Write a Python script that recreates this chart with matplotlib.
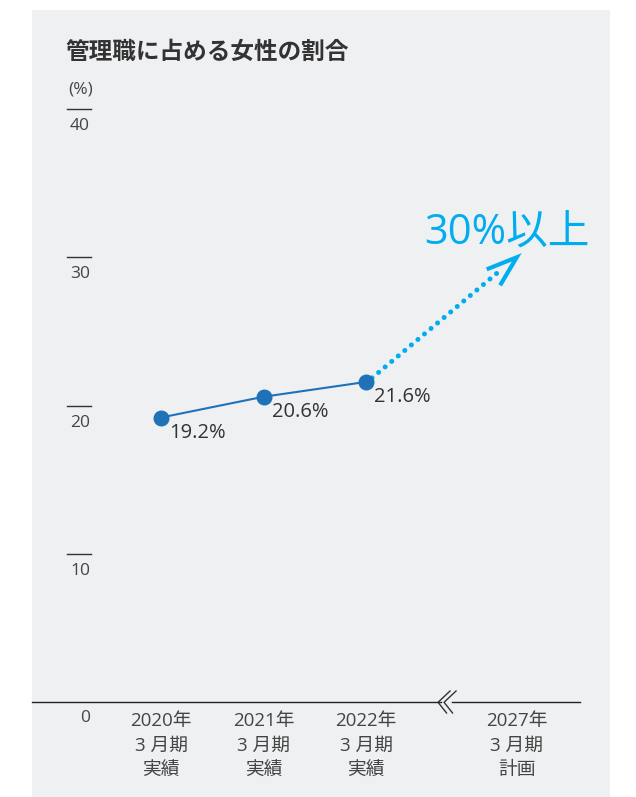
import matplotlib.pyplot as plt
from matplotlib.patches import Rectangle

plt.rcParams['font.family'] = ['Open Sans', 'Noto Sans CJK JP', 'DejaVu Sans']

# data
periods = ['2020年\n3 月期\n実績', '2021年\n3 月期\n実績', '2022年\n3 月期\n実績', '2027年\n3 月期\n計画']
xpos = [0, 1, 2, 3.47]
ratio = [19.2, 20.6, 21.6]
labels = ['19.2%', '20.6%', '21.6%']
target = 30
yticks = [10, 20, 30, 40]

W, H = 636, 797
fig = plt.figure(figsize=(W / 100, H / 100), dpi=100)
fig.patches.append(Rectangle((32 / W, 0), 578 / W, 1 - 10 / H, transform=fig.transFigure,
                             facecolor='#eff0f2', edgecolor='none', zorder=-5))

# axes: x px 32..610, y 0 at px 702.3, 40 at px 109
ax = fig.add_axes([32 / W, (H - 702.3) / H, 578 / W, (702.3 - 109) / H])
ax.set_zorder(2)
ax.set_xlim(-1.259, 4.380)
ax.set_ylim(0, 40)
ax.axis('off')
sx = 102.5   # px per x unit
sy = 14.83   # px per y unit


def px2x(p):
    return (p - 161) / sx


# baseline with break
ax.plot([px2x(32), px2x(441)], [0, 0], color='#222', lw=1, clip_on=False)
ax.plot([px2x(452), px2x(580)], [0, 0], color='#222', lw=1, clip_on=False)
for dx in (0, 6):
    xs = [px2x(450 + dx), px2x(438 + dx), px2x(446.5 + dx)]
    ys = [11.3 / sy, 0, -10.7 / sy]
    ax.plot(xs, ys, color='#333', lw=1, clip_on=False)

# y ticks: short line with label under it
for v in yticks:
    ax.plot([px2x(67), px2x(91)], [v, v], color='#333', lw=1, clip_on=False)
    ax.annotate(str(v), (px2x(80), v), xytext=(0, -9), textcoords='offset pixels',
                ha='center', va='top', fontsize=12.5, color='#444')
ax.annotate('0', (px2x(85), 0), xytext=(0, -8), textcoords='offset pixels',
            ha='center', va='top', fontsize=12.5, color='#444')

# x labels
for x, lab in zip(xpos, periods):
    ax.annotate(lab, (x, 0), xytext=(0, -10), textcoords='offset pixels',
                ha='center', va='top', fontsize=13.5, color='#444',
                linespacing=1.45, multialignment='center')

# actual values
ax.plot(xpos[:3], ratio, color='#1f72b8', lw=1.5, marker='o', ms=10.5,
        markerfacecolor='#1f72b8', markeredgecolor='#1f72b8', clip_on=False, zorder=3)
for x, v, lab in zip(xpos, ratio, labels):
    ax.annotate(lab, (x, v), xytext=(8, -5), textcoords='offset pixels',
                ha='left', va='top', fontsize=14.5, color='#333')

# dotted arrow to target
cyan = '#00aeef'
tx, ty = xpos[3], target
ax.plot([xpos[2] + 6 / sx, tx - 14 / sx], [ratio[2] + 4 / sy, ty - 11 / sy], color=cyan, lw=3.6,
        linestyle=(0, (0.01, 1.7)), dash_capstyle='round', clip_on=False)
ax.plot([tx - 30 / sx, tx, tx - 16.6 / sx], [ty - 12 / sy, ty, ty - 28 / sy], color=cyan, lw=3,
        solid_joinstyle='miter', solid_capstyle='butt', clip_on=False)
ax.annotate('30%以上', (tx, ty), xytext=(-10, 25), textcoords='offset pixels',
            ha='center', va='center', fontsize=30, color=cyan)

fig.text(65 / W, 1 - 52 / H, '管理職に占める女性の割合', fontsize=17, fontweight='bold',
         family=['Noto Sans CJK JP'], color='#333', va='center', ha='left')
fig.text(68 / W, 1 - 89 / H, '(%)', fontsize=12.5, color='#444', va='center', ha='left')

fig.savefig('out.png', dpi=100)
